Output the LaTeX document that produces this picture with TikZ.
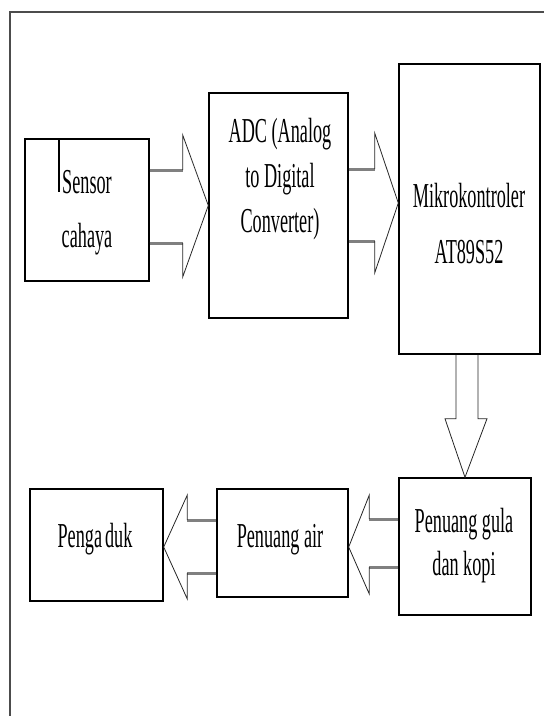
\documentclass[tikz,border=0pt]{standalone}
\usepackage{fontspec}
\usetikzlibrary{calc}
\newfontfamily\tnr[FakeStretch=0.52]{Liberation Serif}
\begin{document}
\begin{tikzpicture}[x=1pt,y=-1pt,
  box/.style={draw=black,line width=1.4pt,inner sep=0pt},
  shaft/.style={line width=3pt,draw=black!50},
  head/.style={line width=0.8pt,draw=black!85,line join=miter},
  txt/.style={font=\tnr\fontsize{35}{#1}\selectfont, align=center, inner sep=0pt},
  txt/.default=45]
\useasboundingbox (0,0) rectangle (544,716);
% outer frame
\draw[line width=2pt, black!70] (10,716) -- (10,12) -- (544,12);

% boxes
\node[box, minimum width=124pt, minimum height=142pt] (sensor) at (87,210) {};
\node[box, minimum width=139pt, minimum height=225pt] (adc) at (278.5,205.5) {};
\node[box, minimum width=141pt, minimum height=290pt] (mikro) at (469.5,209) {};
\node[box, minimum width=132pt, minimum height=137pt] (gula) at (465,546.5) {};
\node[box, minimum width=131pt, minimum height=108pt] (air) at (282.5,543) {};
\node[box, minimum width=133pt, minimum height=112pt] (aduk) at (96.5,545) {};

% texts (base anchor = baseline of last line)
\node[txt=54, anchor=base] (sensorT) at (87,247) {Sensor\\cahaya};
\node[txt=45, anchor=base] (adcT) at (280,232) {ADC (Analog\\to Digital\\Converter)};
\node[txt=56, anchor=base] (mikroT) at (469,263) {Mikrokontroler\\AT89S52};
\node[txt=43, anchor=base] (gulaT) at (464,575) {Penuang gula\\dan kopi};
\node[txt, anchor=base] (airT) at (280,547) {Penuang air};
\node[txt, anchor=base] (adukT) at (95,547) {Penga\kern3pt duk};

% small cursor mark
\draw[line width=1.8pt] ($(sensor.north west)+(35,0)$) -- ($(sensor.north west)+(35,54)$);

% arrow sensor -> adc
\draw[shaft] ($(sensor.east)+(0,-40)$) -- ($(sensor.east)+(33,-40)$);
\draw[shaft] ($(sensor.east)+(0,33)$) -- ($(sensor.east)+(33,33)$);
\draw[head] ($(sensor.east)+(33,-40)$) -- ($(sensor.east)+(33,-75)$) -- (adc.west)
  -- ($(sensor.east)+(33,67)$) -- ($(sensor.east)+(33,33)$);

% arrow adc -> mikro
\draw[shaft] ($(adc.east)+(0,-36.5)$) -- ($(adc.east)+(26,-36.5)$);
\draw[shaft] ($(adc.east)+(0,35.5)$) -- ($(adc.east)+(26,35.5)$);
\draw[head] ($(adc.east)+(26,-36.5)$) -- ($(adc.east)+(26,-72.5)$) -- ($(mikro.west)+(0,-6)$)
  -- ($(adc.east)+(26,67.5)$) -- ($(adc.east)+(26,35.5)$);

% arrow mikro -> gula
\draw[head] ($(mikro.south)+(-13.5,0)$) -- ($(mikro.south)+(-13.5,64)$) -- ($(mikro.south)+(-24.5,64)$)
  -- (gula.north) -- ($(mikro.south)+(17.5,64)$) -- ($(mikro.south)+(8.5,64)$) -- ($(mikro.south)+(8.5,0)$);

% arrow gula -> air
\draw[shaft] ($(gula.west)+(0,-27.5)$) -- ($(gula.west)+(-29,-27.5)$);
\draw[shaft] ($(gula.west)+(0,20.5)$) -- ($(gula.west)+(-29,20.5)$);
\draw[head] ($(gula.west)+(-29,-27.5)$) -- ($(gula.west)+(-29,-51.5)$) -- ($(air.east)+(0,4)$)
  -- ($(gula.west)+(-29,47.5)$) -- ($(gula.west)+(-29,20.5)$);

% arrow air -> aduk
\draw[shaft] ($(air.west)+(0,-23)$) -- ($(air.west)+(-29,-23)$);
\draw[shaft] ($(air.west)+(0,30)$) -- ($(air.west)+(-29,30)$);
\draw[head] ($(air.west)+(-29,-23)$) -- ($(air.west)+(-29,-48)$) -- ($(aduk.east)+(0,2)$)
  -- ($(air.west)+(-29,56)$) -- ($(air.west)+(-29,30)$);
\end{tikzpicture}
\end{document}
